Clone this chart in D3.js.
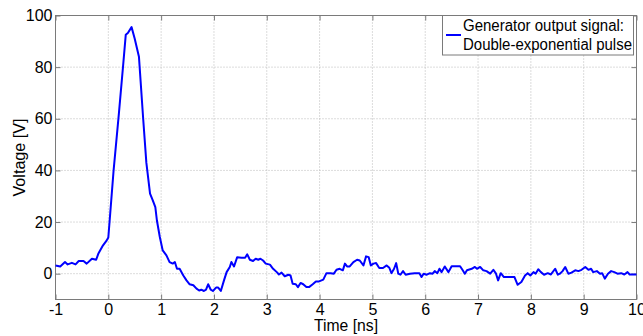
<!DOCTYPE html>
<html>
<head>
<meta charset="utf-8">
<script src="https://cdn.jsdelivr.net/npm/d3@7"></script>
<style>
  html, body { margin: 0; padding: 0; background: #fff; }
  svg { display: block; font-family: "Liberation Sans", Arial, sans-serif; }
</style>
</head>
<body>
<svg id="chart" width="643" height="336"></svg>
<script>
// Generator output: time samples (ns) and measured voltage (V)
const timeNs = [
  -1.00, -0.91, -0.82, -0.77, -0.69, -0.62, -0.56, -0.47, -0.41, -0.31, -0.23, -0.19, -0.10, -0.03, 0.00,
  0.10, 0.20, 0.28, 0.33, 0.37, 0.44, 0.50, 0.58, 0.66, 0.72, 0.79, 0.84, 0.89, 0.92, 0.975,
  1.03, 1.10, 1.16, 1.22, 1.26, 1.30, 1.35, 1.42, 1.48, 1.54, 1.61, 1.67, 1.72, 1.76, 1.81, 1.85,
  1.89, 1.94, 1.98, 2.04, 2.08, 2.13, 2.19, 2.24, 2.30, 2.33, 2.38, 2.44, 2.52, 2.59, 2.63, 2.68,
  2.74, 2.79, 2.84, 2.88, 2.93, 2.98, 3.06, 3.12, 3.19, 3.23, 3.28, 3.34, 3.41, 3.45, 3.49, 3.55,
  3.59, 3.64, 3.69, 3.75, 3.80, 3.87, 3.93, 3.99, 4.07, 4.13, 4.21, 4.27, 4.32, 4.38, 4.44, 4.48,
  4.52, 4.57, 4.64, 4.71, 4.76, 4.83, 4.88, 4.93, 4.97, 5.02, 5.07, 5.13, 5.20, 5.27, 5.32, 5.36,
  5.41, 5.45, 5.49, 5.53, 5.58, 5.63, 5.71, 5.80, 5.89, 5.93, 5.97, 6.03, 6.09, 6.14, 6.18, 6.23,
  6.27, 6.31, 6.37, 6.44, 6.50, 6.58, 6.66, 6.71, 6.75, 6.79, 6.88, 6.94, 6.98, 7.04, 7.10, 7.16,
  7.23, 7.29, 7.34, 7.38, 7.43, 7.49, 7.57, 7.69, 7.75, 7.82, 7.89, 7.94, 7.99, 8.05, 8.09, 8.14,
  8.19, 8.25, 8.32, 8.38, 8.46, 8.51, 8.55, 8.60, 8.65, 8.71, 8.77, 8.84, 8.90, 8.96, 9.03, 9.09,
  9.14, 9.18, 9.25, 9.31, 9.35, 9.40, 9.46, 9.52, 9.58, 9.64, 9.71, 9.77, 9.83, 9.87, 9.97, 10.00
];
const voltageV = [
  3.2, 2.8, 4.5, 3.6, 4.2, 3.6, 4.9, 4.9, 3.9, 5.8, 5.4, 7.7, 11.0, 12.9, 14.0,
  40.0, 62.0, 80.6, 92.5, 93.2, 95.5, 91.0, 84.0, 60.0, 43.0, 31.0, 28.5, 25.8, 20.6, 14.2,
  9.0, 7.1, 4.5, 3.9, 4.5, 1.9, 1.9, -0.7, -2.6, -4.1, -4.5, -5.8, -6.5, -6.2, -6.7, -6.2,
  -4.1, -6.2, -6.7, -5.4, -5.4, -6.7, -2.6, 0.6, 2.6, 4.5, 2.8, 6.4, 6.2, 6.2, 7.5, 5.4,
  4.9, 5.8, 5.4, 5.8, 5.1, 3.9, 3.5, 1.9, 0.6, -0.3, 0.4, -1.0, -0.4, -0.7, -3.9, -4.1,
  -5.2, -3.6, -4.1, -5.2, -5.2, -4.1, -3.0, -3.0, -2.3, 0.2, 0.2, 0.0, 1.5, 1.9, 1.3, 3.9,
  2.8, 2.8, 4.5, 5.4, 5.1, 3.2, 6.7, 6.4, 3.2, 3.9, 4.1, 2.2, 2.2, 3.2, 2.3, 0.2,
  1.9, 4.1, 0.0, -0.4, 1.0, -0.4, 0.0, 0.2, 0.2, -1.3, 0.0, -0.4, 0.2, 0.0, 1.0, 0.2,
  1.9, 0.6, 2.8, 0.6, 2.9, 2.9, 2.9, 1.3, 0.0, 1.3, 1.9, 2.6, 1.9, 2.6, 1.3, 1.0,
  0.0, 1.5, 0.0, -2.6, 0.2, -1.3, -1.3, -1.3, -4.3, -3.2, -0.7, 0.2, -0.7, 0.6, 0.0, 1.7,
  0.6, -0.4, 0.2, -0.3, 1.9, -0.4, 0.0, 1.0, 2.6, 0.0, 0.4, 1.3, 1.0, 1.5, 2.6, 1.5,
  1.9, 0.6, 1.0, 0.0, 0.2, -1.9, 0.0, 1.0, 0.6, 0.0, 0.2, -0.3, 0.6, -0.3, -0.3, -0.3
];
const xTicks = [-1, 0, 1, 2, 3, 4, 5, 6, 7, 8, 9, 10];
const yTicks = [0, 20, 40, 60, 80, 100];
const legendLines = ["Generator output signal:", "Double-exponential pulse"];

const svg = d3.select("#chart");
const W = 643, H = 336;
const margin = { left: 55.5, right: 6.5, top: 15.5, bottom: 36.5 };
const x = d3.scaleLinear().domain([-1, 10]).range([margin.left, W - margin.right]);
const y = d3.scaleLinear().domain([-10, 100]).range([H - margin.bottom, margin.top]);

const axisColor = "#7a7a7a";
const gridColor = "#b8b8b8";
const fontSize = 16;

// dotted grid
const grid = svg.append("g");
grid.selectAll("line.gx").data(xTicks.slice(1, -1)).enter().append("line")
  .attr("x1", d => x(d)).attr("x2", d => x(d))
  .attr("y1", y(-10)).attr("y2", y(100))
  .attr("stroke", gridColor).attr("stroke-width", 1).attr("stroke-dasharray", "1,2");
grid.selectAll("line.gy").data(yTicks.filter(d => d !== 100)).enter().append("line")
  .attr("x1", x(-1)).attr("x2", x(10))
  .attr("y1", d => y(d)).attr("y2", d => y(d))
  .attr("stroke", gridColor).attr("stroke-width", 1).attr("stroke-dasharray", "1,2");

// axes with inward ticks on all four sides
function styleAxis(g) {
  g.select(".domain").remove();
  g.selectAll(".tick line").attr("stroke", axisColor);
  g.selectAll(".tick text").attr("fill", "#000").attr("font-size", fontSize)
    .attr("font-family", "'Liberation Sans', Arial, sans-serif");
}
const fmt = d => String(d);
svg.append("g").attr("transform", `translate(0,${y(-10)})`)
  .call(d3.axisBottom(x).tickValues(xTicks).tickSize(-5).tickPadding(4).tickFormat(fmt))
  .call(styleAxis);
svg.append("g").attr("transform", `translate(0,${y(100)})`)
  .call(d3.axisTop(x).tickValues(xTicks).tickSize(-5).tickFormat(""))
  .call(styleAxis);
svg.append("g").attr("transform", `translate(${x(-1)},0)`)
  .call(d3.axisLeft(y).tickValues(yTicks).tickSize(-5).tickPadding(3).tickFormat(fmt))
  .call(styleAxis);
svg.append("g").attr("transform", `translate(${x(10)},0)`)
  .call(d3.axisRight(y).tickValues(yTicks).tickSize(-5).tickFormat(""))
  .call(styleAxis);

// plot box
svg.append("rect")
  .attr("x", x(-1)).attr("y", y(100))
  .attr("width", x(10) - x(-1)).attr("height", y(-10) - y(100))
  .attr("fill", "none").attr("stroke", axisColor).attr("stroke-width", 1);

// signal trace
const data = timeNs.map((t, i) => ({ t, v: voltageV[i] }));
svg.append("path")
  .datum(data)
  .attr("fill", "none")
  .attr("stroke", "#0000ff")
  .attr("stroke-width", 2)
  .attr("stroke-linejoin", "round")
  .attr("d", d3.line().x(d => x(d.t)).y(d => y(d.v)));

// axis titles
svg.append("text")
  .attr("x", (x(-1) + x(10)) / 2).attr("y", 331)
  .attr("text-anchor", "middle").attr("font-size", fontSize)
  .attr("textLength", 64).attr("lengthAdjust", "spacingAndGlyphs")
  .text("Time [ns]");
svg.append("text")
  .attr("transform", `translate(25,${(y(-10) + y(100)) / 2}) rotate(-90)`)
  .attr("text-anchor", "middle").attr("font-size", fontSize)
  .attr("textLength", 78).attr("lengthAdjust", "spacingAndGlyphs")
  .text("Voltage [V]");

// legend
const lg = svg.append("g");
lg.append("rect")
  .attr("x", 442.5).attr("y", 15.5).attr("width", 191).attr("height", 39.5)
  .attr("fill", "#fff").attr("stroke", axisColor).attr("stroke-width", 1);
lg.append("line")
  .attr("x1", 446).attr("x2", 461).attr("y1", 35).attr("y2", 35)
  .attr("stroke", "#0000ff").attr("stroke-width", 2);
const legendWidths = [161, 169];
lg.selectAll("text").data(legendLines).enter().append("text")
  .attr("x", 463).attr("y", (d, i) => 31 + i * 19)
  .attr("font-size", fontSize)
  .attr("textLength", (d, i) => legendWidths[i])
  .attr("lengthAdjust", "spacingAndGlyphs")
  .text(d => d);
</script>
</body>
</html>
